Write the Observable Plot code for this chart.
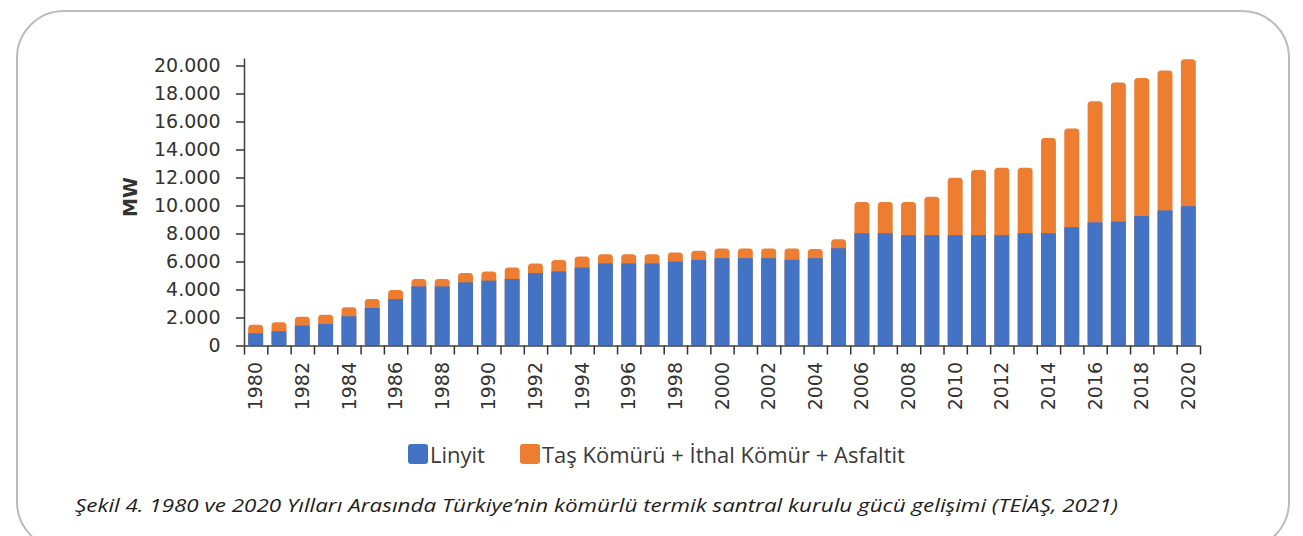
<!DOCTYPE html>
<html>
<head>
<meta charset="utf-8">
<script src="https://cdn.jsdelivr.net/npm/d3@7"></script>
<script src="https://cdn.jsdelivr.net/npm/@observablehq/plot@0.6"></script>
<style>
  html, body { margin: 0; padding: 0; background: #fff; }
  body { width: 1303px; height: 536px; overflow: hidden; position: relative; }
  #frame { position: absolute; left: 16px; top: 10px; width: 1274px; height: 540px;
           border: 2px solid #b9bdc1; border-radius: 48px; box-sizing: border-box; }
  #chart { position: absolute; left: 0; top: 0; }
  #ylabel { position: absolute; left: 90px; top: 185px; width: 80px; height: 24px; line-height: 24px;
            text-align: center; transform: rotate(-90deg); font-family: "DejaVu Sans", sans-serif;
            font-weight: bold; font-size: 19px; color: #333; }
  #legend { position: absolute; left: 408px; top: 440px; height: 28px; display: flex; align-items: center;
            font-family: "Open Sans", sans-serif; font-size: 22px; color: #3a3a3a; white-space: nowrap; }
  .sw { width: 20px; height: 20px; border-radius: 3px; display: inline-block; margin-right: 2px; }
  .item { display: flex; align-items: center; margin-right: 35px; }
  #caption { position: absolute; left: 75px; top: 492px; line-height: 26px; white-space: nowrap;
             font-family: "Open Sans", sans-serif; font-style: italic; font-size: 19px; color: #1e1e1e;
             transform-origin: 0 50%; }
</style>
</head>
<body>
<div id="frame"></div>
<div id="chart"></div>
<div id="ylabel">MW</div>
<div id="legend"></div>
<div id="caption"></div>
<script>
// ---- data (MW) ----
const years = [1980,1981,1982,1983,1984,1985,1986,1987,1988,1989,1990,1991,1992,1993,1994,1995,1996,1997,1998,1999,
               2000,2001,2002,2003,2004,2005,2006,2007,2008,2009,2010,2011,2012,2013,2014,2015,2016,2017,2018,2019,2020];
const linyit = [875,1020,1420,1540,2090,2680,3320,4220,4220,4510,4630,4750,5170,5290,5570,5860,5860,5860,6000,6120,
                6240,6240,6240,6120,6240,6950,8020,8020,7880,7880,7880,7880,7880,8020,8020,8450,8800,8850,9250,9650,9950];
const tasKomuru = [615,640,640,660,640,640,640,530,530,660,660,820,690,810,790,660,660,660,640,640,
                   690,690,690,810,660,640,2230,2230,2370,2750,4100,4650,4810,4670,6810,7050,8640,9940,9850,10000,10500];
const seriesNames = ["Linyit", "Taş Kömürü + İthal Kömür + Asfaltit"];
const seriesColors = ["#4472C4", "#ED7D31"];
const yTicks = [0,2000,4000,6000,8000,10000,12000,14000,16000,18000,20000];
const xLabelYears = [1980,1982,1984,1986,1988,1990,1992,1994,1996,1998,2000,2002,2004,2006,2008,2010,2012,2014,2016,2018,2020];
const captionText = "Şekil 4. 1980 ve 2020 Yılları Arasında Türkiye’nin kömürlü termik santral kurulu gücü gelişimi (TEİAŞ, 2021)";

const rows = years.map((year, i) => ({year, linyit: linyit[i], total: linyit[i] + tasKomuru[i]}));
const fmt = d3.formatLocale({decimal: ",", thousands: ".", grouping: [3], currency: ["", ""]}).format(",d");
const boundaries = d3.range(years[0] - 0.5, years[years.length - 1] + 1, 1);

const chart = Plot.plot({
  width: 1303,
  height: 420,
  marginLeft: 244,
  marginRight: 103,
  marginTop: 58.5,
  marginBottom: 74.5,
  x: {type: "linear", domain: [years[0] - 0.5, years[years.length - 1] + 0.5]},
  y: {domain: [0, 20500]},
  style: {fontFamily: "DejaVu Sans, sans-serif", fontSize: "19px", color: "#333", background: "transparent"},
  marks: [
    Plot.rect(rows, {x1: d => d.year - 0.5, x2: d => d.year + 0.5, y1: 0, y2: "total",
                     fill: seriesColors[1], insetLeft: 4.2, insetRight: 4.2, rx: 3.5}),
    Plot.rect(rows, {x1: d => d.year - 0.5, x2: d => d.year + 0.5, y1: 0, y2: "linyit",
                     fill: seriesColors[0], insetLeft: 4.2, insetRight: 4.2}),
    Plot.axisY({ticks: yTicks, tickSize: 8, tickPadding: 16, tickFormat: fmt, label: null, strokeWidth: 1.5}),
    Plot.axisX({ticks: boundaries, tickSize: 9, tickFormat: () => "", label: null, strokeWidth: 1.5}),
    Plot.axisX({ticks: xLabelYears, tickSize: 0, tickPadding: 16, tickRotate: -90,
                tickFormat: d => String(d), label: null}),
    Plot.ruleX([years[0] - 0.5], {stroke: "#404040", strokeWidth: 1.5}),
    Plot.ruleY([0], {stroke: "#404040", strokeWidth: 1.5})
  ]
});
document.getElementById("chart").appendChild(chart);

// legend
const legend = document.getElementById("legend");
seriesNames.forEach((name, i) => {
  const item = document.createElement("span");
  item.className = "item";
  const sw = document.createElement("span");
  sw.className = "sw";
  sw.style.background = seriesColors[i];
  const label = document.createElement("span");
  label.textContent = name;
  item.appendChild(sw);
  item.appendChild(label);
  legend.appendChild(item);
});

// caption, fitted to the reference width
const cap = document.getElementById("caption");
cap.textContent = captionText;
const w = cap.getBoundingClientRect().width;
cap.style.transform = `scaleX(${1043 / w})`;
</script>
</body>
</html>
